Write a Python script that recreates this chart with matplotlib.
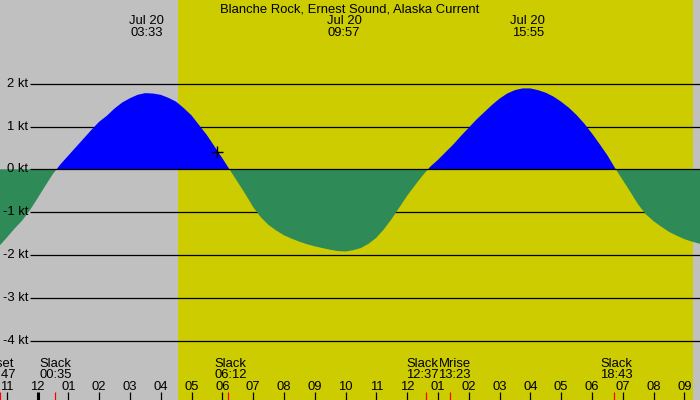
import numpy as np
import matplotlib.pyplot as plt

plt.rcParams['font.family'] = ['Liberation Sans', 'DejaVu Sans']

# Courant (kt), heures après minuit le 20 juillet, pas de 15 min
heures = np.arange(-1.5, 22.01, 0.25)
courant = [-1.92, -1.80, -1.60, -1.39, -1.20, -0.96, -0.68, -0.39,
           -0.11, 0.12, 0.32, 0.52, 0.72, 0.92, 1.11, 1.25,
           1.42, 1.56, 1.66, 1.74, 1.78, 1.77, 1.74, 1.67,
           1.58, 1.43, 1.26, 1.03, 0.80, 0.53, 0.26, -0.02,
           -0.30, -0.58, -0.88, -1.12, -1.30, -1.43, -1.54, -1.62,
           -1.69, -1.75, -1.80, -1.84, -1.88, -1.91, -1.92, -1.89,
           -1.84, -1.74, -1.60, -1.40, -1.16, -0.89, -0.62, -0.38,
           -0.15, 0.06, 0.22, 0.40, 0.58, 0.78, 0.97, 1.16,
           1.33, 1.50, 1.65, 1.77, 1.85, 1.89, 1.89, 1.85,
           1.79, 1.70, 1.58, 1.44, 1.27, 1.07, 0.84, 0.59,
           0.33, 0.03, -0.25, -0.53, -0.82, -1.05, -1.21, -1.34,
           -1.46, -1.55, -1.63, -1.69, -1.74, -1.78, -1.82]

# Lever / coucher du soleil (zone jaune)
lever, coucher = 4.56, 21.28

# Maxima du courant (en haut)
max_heures = [3.55, 9.95, 15.917]
max_labels = ["Jul 20\n03:33", "Jul 20\n09:57", "Jul 20\n15:55"]

# Événements (en bas)
evt_heures = [-1.217, 0.583, 6.2, 12.617, 13.383, 18.717]
evt_noms = ["Mset", "Slack", "Slack", "Slack", "Mrise", "Slack"]
evt_temps = ["22:47", "00:35", "06:12", "12:37", "13:23", "18:43"]
evt_decal = [0, 0, 2, -4, 5, 2]  # décalage des étiquettes (px)

# Graduations horaires
tick_heures = list(range(-1, 22))
tick_labels = ["11", "12", "01", "02", "03", "04", "05", "06", "07", "08", "09", "10",
               "11", "12", "01", "02", "03", "04", "05", "06", "07", "08", "09"]

niveaux = [2, 1, 0, -1, -2, -3, -4]

t = np.array(heures)
v = np.array(courant)

W, H = 700, 400
px_h, x0 = 30.8, 37.5        # px par heure, minuit en px
px_kt, y0 = 42.8, 169.3      # px par noeud, zéro en px

fig = plt.figure(figsize=(7, 4), dpi=100, facecolor="#c0c0c0")
ax = fig.add_axes([0, 0, 1, 1])
ax.set_xlim(-x0 / px_h, (W - x0) / px_h)
ax.set_ylim((y0 - H) / px_kt, y0 / px_kt)
ax.axis("off")

ax.axvspan(lever, coucher, color="#cccc00", lw=0, zorder=0)

xg = (30 - x0) / px_h
for n in niveaux:
    if n != 0:
        ax.hlines(n, xg, ax.get_xlim()[1], color="k", lw=0.9, zorder=1)
    ax.text(xg - 2 / px_h, n, f"{n} kt", ha="right", va="center", fontsize=9.4)

ax.fill_between(t, v, 0, where=v >= 0, interpolate=True, color="#0000ff", lw=0, zorder=2)
ax.fill_between(t, v, 0, where=v <= 0, interpolate=True, color="#2e8b57", lw=0, zorder=2)
ax.hlines(0, xg, ax.get_xlim()[1], color="k", lw=0.9, zorder=3)

ax.plot(5.84, 0.40, "k+", ms=8, mew=1, zorder=4)

def fy(ypix):
    return 1 - ypix / H

fig.text(0.5, fy(12.5), "Blanche Rock, Ernest Sound, Alaska Current",
         ha="center", va="baseline", fontsize=9.4)
for h, lab in zip(max_heures, max_labels):
    xf = (x0 + h * px_h) / W
    l1, l2 = lab.split("\n")
    fig.text(xf, fy(24.3), l1, ha="center", va="baseline", fontsize=9.4)
    fig.text(xf, fy(36), l2, ha="center", va="baseline", fontsize=9.4)

for h, nom, tm, d in zip(evt_heures, evt_noms, evt_temps, evt_decal):
    xf = (x0 + h * px_h + d) / W
    fig.text(xf, fy(366.7), nom, ha="center", va="baseline", fontsize=9.4)
    fig.text(xf, fy(377.7), tm, ha="center", va="baseline", fontsize=9.4)
    ax.vlines(h, (y0 - 400) / px_kt, (y0 - 392) / px_kt, color="red", lw=0.9, zorder=5)

for h, lab in zip(tick_heures, tick_labels):
    xf = (x0 + h * px_h) / W
    fig.text(xf, fy(390), lab, ha="center", va="baseline", fontsize=9.4)
    ax.vlines(h, (y0 - 400) / px_kt, (y0 - 392) / px_kt, color="k",
              lw=2.2 if h == 0 else 0.9, zorder=5)

fig.savefig("out.png", dpi=100, facecolor=fig.get_facecolor())
